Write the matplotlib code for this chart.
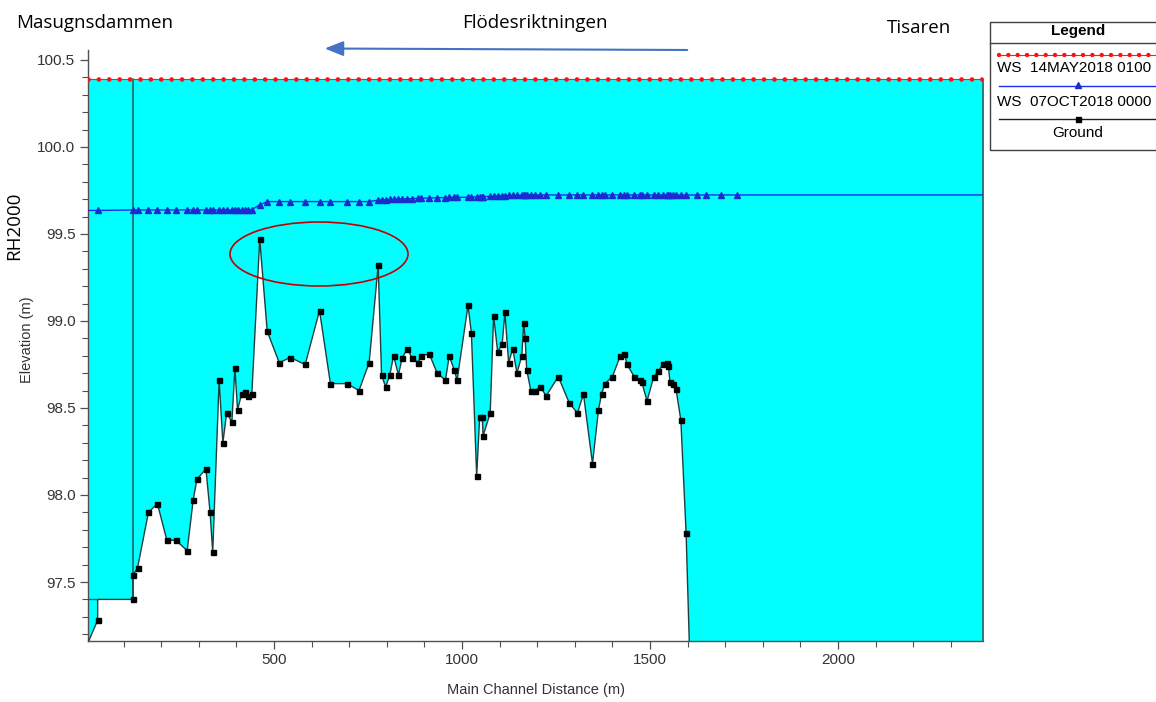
import numpy as np
import matplotlib
matplotlib.use("Agg")
import matplotlib.pyplot as plt
from matplotlib.patches import Ellipse, Rectangle, FancyArrowPatch, ArrowStyle
from matplotlib.lines import Line2D
from matplotlib.ticker import MultipleLocator, FormatStrFormatter

# ---------------- data ----------------
ground_x = [5, 31, 31, 125, 125, 137, 166, 190, 215, 239, 269, 285, 295, 319, 330, 337,
            354, 364, 374, 388, 396, 403, 414, 423, 430, 441, 462, 482, 514, 543, 583, 621,
            650, 694, 726, 753, 777, 786, 797, 808, 818, 831, 841, 855, 866, 884, 890, 913,
            934, 956, 966, 979, 987, 1016, 1025, 1039, 1047, 1054, 1056, 1075, 1084, 1095,
            1107, 1114, 1124, 1135, 1146, 1159, 1164, 1168, 1172, 1183, 1195, 1208, 1224,
            1256, 1285, 1307, 1323, 1347, 1363, 1371, 1380, 1400, 1421, 1432, 1439, 1458,
            1473, 1478, 1492, 1510, 1521, 1535, 1545, 1549, 1553, 1562, 1569, 1582, 1596,
            1620, 2385]
ground_y = [97.15, 97.28, 97.40, 97.40, 97.54, 97.58, 97.90, 97.95, 97.74, 97.74, 97.68,
            97.97, 98.09, 98.15, 97.90, 97.67, 98.66, 98.30, 98.47, 98.42, 98.73, 98.49,
            98.58, 98.59, 98.57, 98.58, 99.47, 98.94, 98.76, 98.79, 98.75, 99.06, 98.64,
            98.64, 98.60, 98.76, 99.32, 98.69, 98.62, 98.69, 98.80, 98.69, 98.79, 98.84,
            98.79, 98.76, 98.80, 98.81, 98.70, 98.66, 98.80, 98.72, 98.66, 99.09, 98.93,
            98.11, 98.45, 98.45, 98.34, 98.47, 99.03, 98.82, 98.87, 99.05, 98.76, 98.84,
            98.70, 98.80, 98.99, 98.90, 98.72, 98.60, 98.60, 98.62, 98.57, 98.68, 98.53,
            98.47, 98.58, 98.18, 98.49, 98.58, 98.64, 98.68, 98.80, 98.81, 98.75, 98.68,
            98.66, 98.65, 98.54, 98.68, 98.71, 98.75, 98.76, 98.74, 98.65, 98.64, 98.61,
            98.43, 97.78, 96.00, 96.00]
ground_unmarked = [0, 2, len(ground_x) - 2, len(ground_x) - 1]

ws_oct_x = [5, 31, 125, 137, 166, 190, 215, 239, 269, 285, 295, 319, 330, 337, 354, 364,
            374, 388, 396, 403, 414, 423, 430, 441, 462, 482, 514, 543, 583, 621, 650, 694,
            726, 753, 777, 786, 797, 808, 818, 831, 841, 855, 866, 884, 890, 913, 934, 956,
            966, 979, 987, 1016, 1025, 1039, 1047, 1054, 1056, 1075, 1084, 1095, 1107, 1114,
            1124, 1135, 1146, 1159, 1164, 1168, 1172, 1183, 1195, 1208, 1224, 1256, 1285,
            1307, 1323, 1347, 1363, 1371, 1380, 1400, 1421, 1432, 1439, 1458, 1473, 1478,
            1492, 1510, 1521, 1535, 1545, 1549, 1553, 1562, 1569, 1582, 1596, 1625, 1650,
            1689, 1732, 2385]
ws_oct_y = [99.635, 99.635, 99.638,
            99.638, 99.638, 99.638, 99.638, 99.638, 99.638, 99.638, 99.638, 99.638, 99.638,
            99.638, 99.638, 99.638, 99.638, 99.638, 99.638, 99.638, 99.638, 99.638, 99.638,
            99.640, 99.667, 99.686, 99.686, 99.686, 99.686, 99.686, 99.686, 99.686, 99.686,
            99.686, 99.694, 99.696, 99.697, 99.698, 99.699, 99.700, 99.701, 99.702, 99.703,
            99.705, 99.705, 99.707, 99.708, 99.709, 99.710, 99.710, 99.710, 99.711, 99.712,
            99.713, 99.714, 99.714, 99.714, 99.716, 99.717, 99.718, 99.719, 99.720, 99.721,
            99.722, 99.722, 99.723, 99.723, 99.723, 99.724, 99.724, 99.724, 99.724, 99.724,
            99.724, 99.724, 99.724, 99.724, 99.724, 99.724, 99.724, 99.724, 99.724, 99.724,
            99.724, 99.724, 99.724, 99.724, 99.724, 99.724, 99.724, 99.724, 99.724, 99.724,
            99.724, 99.724, 99.724, 99.724, 99.724, 99.724, 99.724, 99.724, 99.724, 99.724,
            99.724]

ws_may_x = [5, 2385]
ws_may_y = [100.39, 100.39]

weir_x = [5, 31]
weir_y = [97.40, 97.40]
dam_x = 125

x_ticks = [500, 1000, 1500, 2000]
y_ticks = [97.5, 98.0, 98.5, 99.0, 99.5, 100.0, 100.5]

legend_labels = ["WS  14MAY2018 0100", "WS  07OCT2018 0000", "Ground"]

# ---------------- figure ----------------
W, H = 1156, 702
fig = plt.figure(figsize=(W / 100, H / 100), dpi=100)
fx = lambda px: px / W
fy = lambda py: 1 - py / H

ax = fig.add_axes([fx(88), fy(641), (983 - 88) / W, (641 - 50) / H])
ax.set_xlim(5.3, 2385.6)
ax.set_ylim(97.161, 100.557)

cyan = "#00FFFF"
ax.fill_between(ground_x, ground_y, ws_may_y[0], color=cyan, lw=0, zorder=1)

# dam vertical line and weir
ax.plot([dam_x, dam_x], [weir_y[0], ws_may_y[0]], color="#1f5a5a", lw=1.1, zorder=3)
ax.plot(weir_x, weir_y, color="#1f5a5a", lw=1.0, zorder=3)
# right edge of water
ax.plot([ws_may_x[-1], ws_may_x[-1]], [97.161, ws_may_y[0]], color="#2a6a6a", lw=1.3,
        zorder=3, clip_on=False)

# ground
ax.plot(ground_x, ground_y, color="#1f3f3f", lw=1.0, zorder=3)
mk = [i for i in range(len(ground_x)) if i not in ground_unmarked]
ax.plot([ground_x[i] for i in mk], [ground_y[i] for i in mk], ls="none", marker="s",
        ms=3.6, color="black", zorder=4)

# WS Oct
ax.plot(ws_oct_x, ws_oct_y, color="#1a2cf0", lw=1.0, zorder=3)
ax.plot(ws_oct_x[1:-1], ws_oct_y[1:-1], ls="none", marker="^", ms=4.2, color="#1a2cd0",
        zorder=4)

# WS May
ax.plot(ws_may_x, ws_may_y, color="#ff2020", lw=0.8, zorder=5)
ax.plot(ws_may_x, ws_may_y, color="#ff1010", lw=3.4, ls=(0, (0.001, 2.2)),
        dash_capstyle="round", zorder=5)

# axes styling
for s in ["top", "right"]:
    ax.spines[s].set_visible(False)
for s in ["left", "bottom"]:
    ax.spines[s].set_color("#505050")
    ax.spines[s].set_linewidth(1.0)
ax.set_xticks(x_ticks)
ax.xaxis.set_minor_locator(MultipleLocator(100))
ax.set_yticks(y_ticks)
ax.yaxis.set_major_formatter(FormatStrFormatter("%.1f"))
ax.yaxis.set_minor_locator(MultipleLocator(0.1))
ax.tick_params(which="major", direction="out", length=6, width=0.9, color="#505050",
               labelsize=11, labelcolor="#333333", pad=3)
ax.tick_params(which="minor", direction="out", length=4, width=0.8, color="#505050")
for lab in ax.get_xticklabels() + ax.get_yticklabels():
    lab.set_family("Liberation Sans")

fig.text(fx(536), fy(690), "Main Channel Distance (m)", ha="center", va="center",
         fontsize=10.5, color="#333333", family="Liberation Sans")
fig.text(fx(27), fy(340), "Elevation (m)", ha="center", va="center", rotation=90,
         fontsize=10.5, color="#333333", family="Liberation Sans")

# annotations
fig.text(fx(16), fy(28), "Masugnsdammen", ha="left", va="baseline", fontsize=13.5,
         family="Open Sans", color="black")
fig.text(fx(535), fy(28), "Flödesriktningen", ha="center", va="baseline", fontsize=13.5,
         family="Open Sans", color="black")
fig.text(fx(919), fy(33), "Tisaren", ha="center", va="baseline", fontsize=13.5,
         family="Open Sans", color="black")
fig.text(fx(14), fy(226), "RH2000", ha="center", va="center", rotation=90, fontsize=13.5,
         family="Open Sans", color="black")

arrow = FancyArrowPatch((fx(690), fy(50)), (fx(322), fy(48.5)), transform=fig.transFigure,
                        arrowstyle=ArrowStyle("-|>", head_length=0.75, head_width=0.3),
                        mutation_scale=15, color="#4472C4", lw=1.5)
fig.add_artist(arrow)

ell = Ellipse((fx(319), fy(254)), 178 / W, 64 / H, transform=fig.transFigure,
              fill=False, edgecolor="#C00000", lw=1.2)
fig.add_artist(ell)

# legend box
fig.add_artist(Rectangle((fx(990), fy(150)), (1200 - 990) / W, (150 - 22) / H,
                         transform=fig.transFigure, fill=False, edgecolor="#404040",
                         lw=1.0))
fig.add_artist(Line2D([fx(990), fx(1200)], [fy(43), fy(43)], transform=fig.transFigure,
                      color="#404040", lw=1.0))
fig.text(fx(1078), fy(31), "Legend", ha="center", va="center", fontsize=11,
         fontweight="bold", family="Liberation Sans")
fig.add_artist(Line2D([fx(999), fx(1160)], [fy(55), fy(55)], transform=fig.transFigure,
                      color="#ff2020", lw=0.8))
fig.add_artist(Line2D([fx(999), fx(1160)], [fy(55), fy(55)], transform=fig.transFigure,
                      color="#ff1010", lw=3.2, ls=(0, (0.001, 2.1)),
                      dash_capstyle="round"))
fig.text(fx(997), fy(68), legend_labels[0], ha="left", va="center", fontsize=11,
         family="Liberation Sans")
fig.add_artist(Line2D([fx(999), fx(1160)], [fy(86), fy(86)], transform=fig.transFigure,
                      color="#1a2cf0", lw=1.0))
fig.add_artist(Line2D([fx(1078)], [fy(85)], transform=fig.transFigure, ls="none",
                      marker="^", ms=4.2, color="#1a2cd0"))
fig.text(fx(997), fy(102), legend_labels[1], ha="left", va="center", fontsize=11,
         family="Liberation Sans")
fig.add_artist(Line2D([fx(999), fx(1160)], [fy(119), fy(119)], transform=fig.transFigure,
                      color="#1f1f1f", lw=1.0))
fig.add_artist(Line2D([fx(1078)], [fy(119)], transform=fig.transFigure, ls="none",
                      marker="s", ms=3.6, color="black"))
fig.text(fx(1078), fy(133), legend_labels[2], ha="center", va="center", fontsize=11,
         family="Liberation Sans")

fig.savefig("out.png", dpi=100)
